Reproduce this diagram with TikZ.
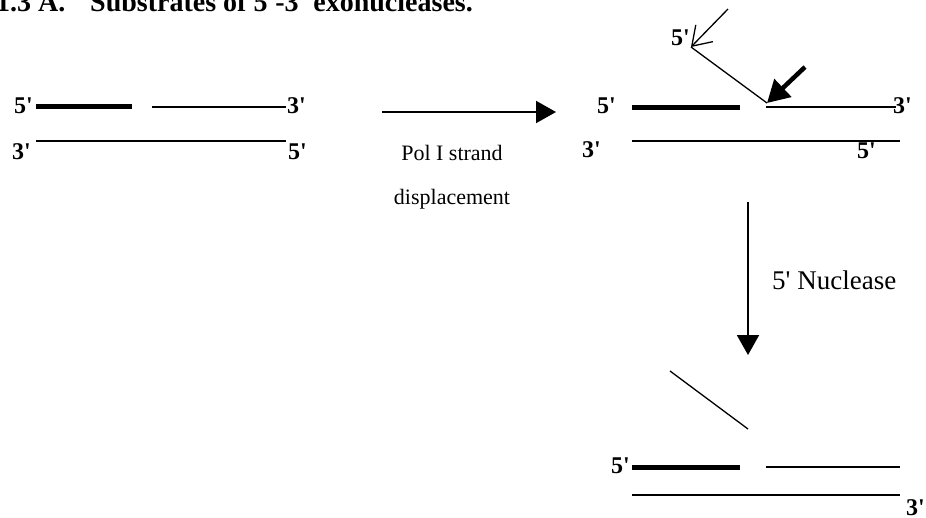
\documentclass[tikz,border=0pt]{standalone}
\usepackage{fontspec}
\setmainfont{Liberation Serif}
\usetikzlibrary{arrows.meta}
\newcommand{\pq}{\textquotesingle}
\begin{document}
\begin{tikzpicture}[x=1pt,y=-1pt,
  lab/.style={font=\bfseries\fontsize{24}{24}\selectfont, inner sep=0pt},
  txt/.style={font=\fontsize{22}{22}\selectfont, inner sep=0pt},
  titletxt/.style={font=\bfseries\fontsize{28}{28}\selectfont, inner sep=0pt},
  strand/.style={line width=2pt},
  thickstrand/.style={line width=5pt},
  flap/.style={line width=1.3pt},
  steparrow/.style={line width=2pt, -{Triangle[length=20pt,width=22pt]}},
  cutarrow/.style={line width=4.5pt, -{Triangle[length=22pt,width=24pt]}},
  endarrow/.style={line width=1.3pt, -{Straight Barb[length=18pt,width=24pt,line width=1.3pt]}}
]
\useasboundingbox (0,0) rectangle (926,517);
% title (cut off at top edge)
\begin{scope}
\clip (0,0) rectangle (926,517);
\node[titletxt, anchor=base west] (t1) at (-4,11) {1.3 A.};
\node[titletxt, anchor=base west] (t2) at (90,11) {Substrates of 5\pq-3\pq\ exonucleases.};
\end{scope}

% ---- left duplex ----
\coordinate (La1) at (36,106.5);  \coordinate (La2) at (132,106.5);
\coordinate (Lb1) at (152,106.5); \coordinate (Lb2) at (286,106.5);
\coordinate (Lc1) at (36,141);    \coordinate (Lc2) at (286,141);
\draw[thickstrand] (La1) -- (La2);
\draw[strand] (Lb1) -- (Lb2);
\draw[strand] (Lc1) -- (Lc2);
\node[lab, anchor=base west] (L5a) at (14,113) {5\pq};
\node[lab, anchor=base west] (L3a) at (287,113) {3\pq};
\node[lab, anchor=base west] (L3b) at (12,159) {3\pq};
\node[lab, anchor=base west] (L5b) at (288,159) {5\pq};

% ---- horizontal step ----
\coordinate (H1) at (382,112); \coordinate (H2) at (556,112);
\draw[steparrow] (H1) -- (H2);
\node[txt, anchor=base] (pol) at (452,160) {Pol I strand};
\node[txt, anchor=base] (disp) at (452,204) {displacement};

% ---- right duplex ----
\coordinate (Ra1) at (632,107);  \coordinate (Ra2) at (740,107);
\coordinate (Rb1) at (766,107);  \coordinate (Rb2) at (896,107);
\coordinate (Rc1) at (632,141);  \coordinate (Rc2) at (900,141);
\draw[thickstrand] (Ra1) -- (Ra2);
\draw[strand] (Rb1) -- (Rb2);
\draw[strand] (Rc1) -- (Rc2);
\node[lab, anchor=base west] (R5a) at (597,113) {5\pq};
\node[lab, anchor=base west] (R3a) at (893,113) {3\pq};
\node[lab, anchor=base west] (R3b) at (582,157) {3\pq};
\node[lab, anchor=base west] (R5b) at (857,158) {5\pq};
% displaced flap
\coordinate (F0) at (767,103); \coordinate (F1) at (691,47);
\coordinate (F2) at (728,9);
\draw[flap] (F0) -- (F1);
\draw[endarrow] (F2) -- (F1);
\node[lab, anchor=base east] (F5) at (690,45) {5\pq};
% cut site arrow
\coordinate (C1) at (805,67); \coordinate (C2) at (767,103);
\draw[cutarrow] (C1) -- (C2);

% ---- vertical step ----
\coordinate (V1) at (748,202); \coordinate (V2) at (748,355);
\draw[steparrow] (V1) -- (V2);
\node[font=\fontsize{27}{27}\selectfont, inner sep=0pt, anchor=base west] (nuc) at (772,289) {5\pq\ Nuclease};

% ---- product duplex ----
\coordinate (Pa1) at (632,467);  \coordinate (Pa2) at (740,467);
\coordinate (Pb1) at (766,467);  \coordinate (Pb2) at (900,467);
\coordinate (Pc1) at (632,495);  \coordinate (Pc2) at (900,495);
\draw[thickstrand] (Pa1) -- (Pa2);
\draw[strand] (Pb1) -- (Pb2);
\draw[strand] (Pc1) -- (Pc2);
\coordinate (Q1) at (670,371); \coordinate (Q2) at (748,429);
\draw[flap] (Q1) -- (Q2);
\node[lab, anchor=base west] (P5) at (611,473) {5\pq};
\node[lab, anchor=base west] (P3) at (906,515) {3\pq};
\end{tikzpicture}
\end{document}
